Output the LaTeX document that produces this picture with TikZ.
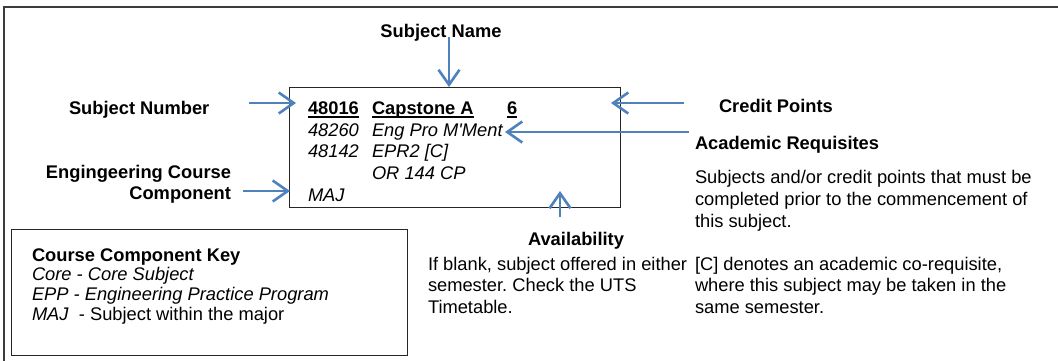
\documentclass[tikz,border=0pt]{standalone}
\usepackage{fontspec}
\newfontfamily\af{Liberation Sans}
\usetikzlibrary{arrows.meta}
\definecolor{arrowblue}{RGB}{79,129,189}
\definecolor{framegray}{RGB}{60,60,60}
\frenchspacing
\newcommand\myul[1]{\setbox0\hbox{#1}\rlap{\rule[-3.4pt]{\wd0}{1.5pt}}\box0}
\tikzset{
  txt/.style={inner sep=0pt, outer sep=0pt, font=\af\frenchspacing\fontsize{18.3}{21.7}\selectfont, text=black},
  bold/.style={txt, font=\af\bfseries\fontsize{18.3}{21.7}\selectfont},
  ital/.style={txt, font=\af\itshape\fontsize{18.3}{21.7}\selectfont},
  para/.style={txt, align=left, anchor=base west},
  pointer/.style={draw=arrowblue, line width=2.6pt,
    -{Straight Barb[length=15pt,width=21pt,line width=2.6pt]}},
  boxline/.style={draw=black!85, line width=1.4pt},
}
\begin{document}
\begin{tikzpicture}[x=1pt,y=-1pt]
\useasboundingbox (0,0) rectangle (1058,360);
% outer frame (top and left only visible)
\draw[draw=framegray, line width=2pt] (1060,7) -- (4,7) -- (4,362);
% main subject box
\node[boxline, minimum width=331pt, minimum height=120pt, anchor=north west, inner sep=0pt] (box) at (289,87) {};
% key box
\node[boxline, minimum width=396pt, minimum height=126pt, anchor=north west, inner sep=0pt] (key) at (11,229) {};

% box contents
\node[bold, anchor=base west] (n1) at (308,114.5) {\myul{48016}};
\node[bold, anchor=base west] (c1) at (372,114.5) {\myul{Capstone A}};
\node[bold, anchor=base west] (p1) at (507,114.5) {\myul{6}};
\node[ital, anchor=base west] (n2) at (308,136) {48260};
\node[ital, anchor=base west] (c2) at (372,136) {Eng Pro M'Ment};
\node[ital, anchor=base west] (n3) at (308,157.7) {48142};
\node[ital, anchor=base west] (c3) at (372,157.7) {EPR2 [C]};
\node[ital, anchor=base west] (c4) at (372,179.3) {OR 144 CP};
\node[ital, anchor=base west] (n5) at (308,201) {MAJ};

% labels
\node[bold, anchor=base] (sname) at (441,37.5) {Subject Name};
\node[bold, anchor=base west] (snum) at (69,114) {Subject Number};
\node[bold, anchor=base east] (ecc1) at (231,178) {Engingeering Course};
\node[bold, anchor=base east] (ecc2) at (231,199.5) {Component};
\node[bold, anchor=base west] (cp) at (719,112) {Credit Points};
\node[bold, anchor=base west] (ar) at (695,149) {Academic Requisites};
% multi-line paragraphs: base anchor = last line baseline
\node[para] (arp) at (695,227) {Subjects and/or credit points that must be\\completed prior to the commencement of\\this subject.};
\node[para] (cop) at (695,313.4) {[C] denotes an academic co-requisite,\\where this subject may be taken in the\\same semester.};
\node[bold, anchor=base] (av) at (576,245.7) {Availability};
\node[para] (avp) at (428,313.4) {If blank, subject offered in either\\semester. Check the UTS\\Timetable.};

% key contents
\node[bold, anchor=base west] (k1) at (32,261) {Course Component Key};
\node[ital, anchor=base west] (k2) at (32,280.7) {Core - Core Subject};
\node[ital, anchor=base west] (k3) at (32,300.4) {EPP - Engineering Practice Program};
\node[txt, anchor=base west] (k4) at (32,320) {\textit{MAJ}\ \ - Subject within the major};

% arrows
\coordinate (snS) at (449,37);   \coordinate (snE) at (449,87);
\coordinate (sbS) at (249,103);  \coordinate (sbE) at (296,103);
\coordinate (ecS) at (243,191);  \coordinate (ecE) at (290,191);
\coordinate (cpS) at (684,103);  \coordinate (cpE) at (611,103);
\coordinate (arS) at (689,132);  \coordinate (arE) at (505,132);
\coordinate (avS) at (560,217);  \coordinate (avE) at (560,191);
\draw[pointer] (snS) -- (snE);
\draw[pointer] (sbS) -- (sbE);
\draw[pointer] (ecS) -- (ecE);
\draw[pointer] (cpS) -- (cpE);
\draw[pointer] (arS) -- (arE);
\draw[pointer] (avS) -- (avE);
\end{tikzpicture}
\end{document}
